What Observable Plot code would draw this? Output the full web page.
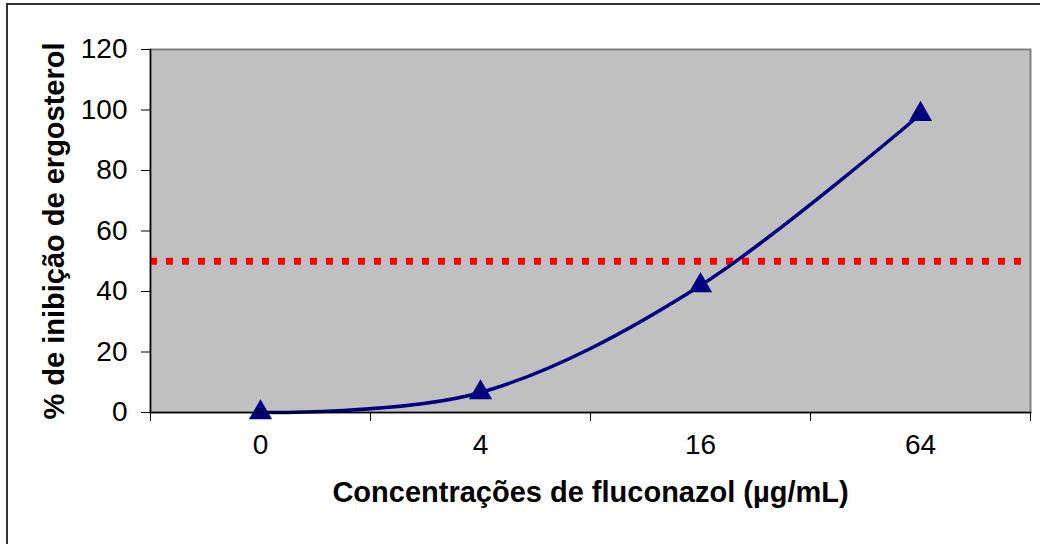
<!DOCTYPE html>
<html>
<head>
<meta charset="utf-8">
<script src="https://cdn.jsdelivr.net/npm/d3@7"></script>
<script src="https://cdn.jsdelivr.net/npm/@observablehq/plot@0.6"></script>
<style>
  html, body { margin: 0; padding: 0; background: #ffffff; }
  #wrap { position: relative; width: 1040px; height: 544px; overflow: hidden; background: #ffffff; }
  #border { position: absolute; left: 6px; top: 3px; width: 1100px; height: 600px; border: 2px solid #333333; pointer-events: none; }
</style>
</head>
<body>
<div id="wrap"><div id="chart"></div><div id="border"></div></div>
<script>
const categories = ["0", "4", "16", "64"];
const inhibition = [0, 6.6, 42, 98.6];
const yTicks = [0, 20, 40, 60, 80, 100, 120];
const threshold = 50;
const xTitle = "Concentrações de fluconazol (µg/mL)";
const yTitle = "% de inibição de ergosterol";

const data = categories.map((c, i) => ({ i, c, v: inhibition[i] }));
const bandEdges = d3.range(categories.length + 1).map(k => k - 0.5);

const chart = Plot.plot({
  width: 1040,
  height: 544,
  marginLeft: 150,
  marginRight: 10,
  marginTop: 49,
  marginBottom: 132,
  style: { fontFamily: "'Liberation Sans', Arial, sans-serif", fontSize: "28px", background: "transparent", color: "black" },
  x: { type: "linear", domain: [-0.5, categories.length - 0.5] },
  y: { domain: [0, 120] },
  marks: [
    Plot.frame({ fill: "#C0C0C0", stroke: "#808080", strokeWidth: 2 }),
    Plot.ruleY([threshold], { stroke: "#FF0000", strokeWidth: 7, strokeDasharray: "7,9" }),
    Plot.line(data, { x: "i", y: "v", stroke: "#000080", strokeWidth: 3.5, curve: "cardinal" }),
    Plot.dot(data, { x: "i", y: "v", symbol: "triangle", r: 8.6, fill: "#000080", stroke: "none" }),
    Plot.frame({ anchor: "left", stroke: "black", strokeWidth: 1.5 }),
    Plot.frame({ anchor: "bottom", stroke: "black", strokeWidth: 1.5 }),
    Plot.axisY({ ticks: yTicks, tickSize: 9, tickPadding: 14, label: null, fontSize: 28 }),
    Plot.axisX({ ticks: bandEdges, tickSize: 9, tickFormat: () => "", label: null }),
    Plot.text(data, { x: "i", text: "c", frameAnchor: "bottom", dy: 41, fontSize: 28 }),
    Plot.text([xTitle], { frameAnchor: "bottom", dy: 89, fontWeight: "bold", fontSize: 29 }),
    Plot.text([yTitle], { frameAnchor: "left", textAnchor: "middle", dx: -96, rotate: -90, fontWeight: "bold", fontSize: 29 })
  ]
});
document.getElementById("chart").appendChild(chart);
</script>
</body>
</html>
